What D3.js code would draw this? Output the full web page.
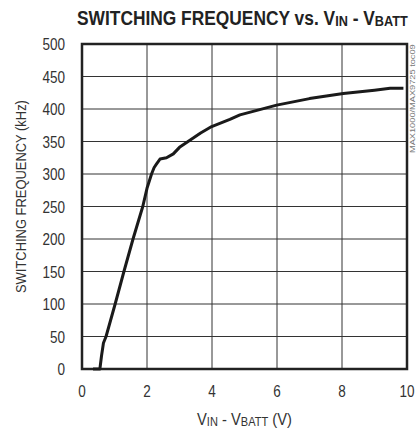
<!DOCTYPE html>
<html>
<head>
<meta charset="utf-8">
<script src="https://cdn.jsdelivr.net/npm/d3@7"></script>
<style>
  body { margin: 0; background: #fff; }
  svg text { font-family: "Liberation Sans", Arial, sans-serif; }
</style>
</head>
<body>
<div id="vis"></div>
<script>
// data
const vinMinusVbatt = [0.34, 0.55, 0.60, 0.66, 0.74, 1.02, 1.29, 1.57, 1.87, 2.0, 2.14, 2.22, 2.30, 2.40, 2.6, 2.81, 3.0, 3.32, 3.65, 3.99, 4.55, 4.86, 5.99, 7.0, 8.04, 9.0, 9.48, 9.89];
const switchingFreq = [0, 0, 20, 40, 50, 100, 150, 200, 250, 278, 300, 310, 316, 323, 325, 331, 341, 352, 363, 373, 384, 391, 406, 416, 424, 429, 432, 432];
const xTicks = [0, 2, 4, 6, 8, 10];
const yTicks = [0, 50, 100, 150, 200, 250, 300, 350, 400, 450, 500];

const width = 416, height = 431;
const margin = {left: 82, top: 44, right: 9, bottom: 62};

const svg = d3.select("#vis").append("svg")
  .attr("width", width).attr("height", height);

const x = d3.scaleLinear().domain([0, 10]).range([margin.left, width - margin.right]);
const y = d3.scaleLinear().domain([0, 500]).range([height - margin.bottom, margin.top]);

// squeeze a text horizontally so it spans `w` px (narrow font look)
function squeeze(txt, w) {
  const len = txt.node().getComputedTextLength();
  txt.attr("transform", "scale(" + (w / len) + ",1)");
}

// grid
svg.append("g").selectAll("line").data(xTicks.slice(1, -1)).join("line")
  .attr("x1", d => x(d)).attr("x2", d => x(d))
  .attr("y1", y(0)).attr("y2", y(500))
  .attr("stroke", "#333").attr("stroke-width", 1);
svg.append("g").selectAll("line").data(yTicks.slice(1, -1)).join("line")
  .attr("x1", x(0)).attr("x2", x(10))
  .attr("y1", d => y(d)).attr("y2", d => y(d))
  .attr("stroke", "#333").attr("stroke-width", 1);

// frame
svg.append("rect")
  .attr("x", x(0)).attr("y", y(500))
  .attr("width", x(10) - x(0)).attr("height", y(0) - y(500))
  .attr("fill", "none").attr("stroke", "#222").attr("stroke-width", 2.5);

// tick labels
svg.append("g").selectAll("text").data(yTicks).join("text")
  .attr("transform", d => "translate(65," + (y(d) + 6) + ") scale(0.82,1)")
  .attr("text-anchor", "end").attr("font-size", 16.5).attr("fill", "#333")
  .text(d => d);
svg.append("g").selectAll("text").data(xTicks).join("text")
  .attr("transform", d => "translate(" + x(d) + ",397) scale(0.82,1)")
  .attr("text-anchor", "middle").attr("font-size", 16.5).attr("fill", "#333")
  .text(d => d);

// curve
const line = d3.line()
  .x((d, i) => x(vinMinusVbatt[i]))
  .y(d => y(d));
svg.append("path")
  .datum(switchingFreq)
  .attr("d", line)
  .attr("fill", "none").attr("stroke", "#1a1a1a").attr("stroke-width", 3)
  .attr("stroke-linejoin", "round");

// title
const tg = svg.append("g").attr("transform", "translate(77,25)");
const title = tg.append("text")
  .attr("font-size", 20.5).attr("font-weight", "bold").attr("fill", "#222");
title.append("tspan").text("SWITCHING FREQUENCY vs. V");
title.append("tspan").attr("font-size", 15).attr("dy", 1).text("IN");
title.append("tspan").attr("dy", -1).text(" - V");
title.append("tspan").attr("font-size", 15).attr("dy", 1).text("BATT");
squeeze(title, 331);

// axis titles
const xg = svg.append("g").attr("transform", "translate(197,425)");
const xl = xg.append("text").attr("font-size", 16).attr("fill", "#333");
xl.append("tspan").text("V");
xl.append("tspan").attr("font-size", 12).attr("dy", 1).text("IN");
xl.append("tspan").attr("dy", -1).text(" - V");
xl.append("tspan").attr("font-size", 12).attr("dy", 1).text("BATT");
xl.append("tspan").attr("dy", -1).text(" (V)");
squeeze(xl, 95);

const yg = svg.append("g").attr("transform", "translate(26,293) rotate(-90)");
const yl = yg.append("text").attr("font-size", 15.5).attr("fill", "#333")
  .text("SWITCHING FREQUENCY (kHz)");
squeeze(yl, 193);

// part number tag
const pg = svg.append("g").attr("transform", "translate(415,153) rotate(-90)");
const pn = pg.append("text").attr("font-size", 8).attr("fill", "#777")
  .text("MAX1000/MAX9725 toc09");
squeeze(pn, 109);
</script>
</body>
</html>
